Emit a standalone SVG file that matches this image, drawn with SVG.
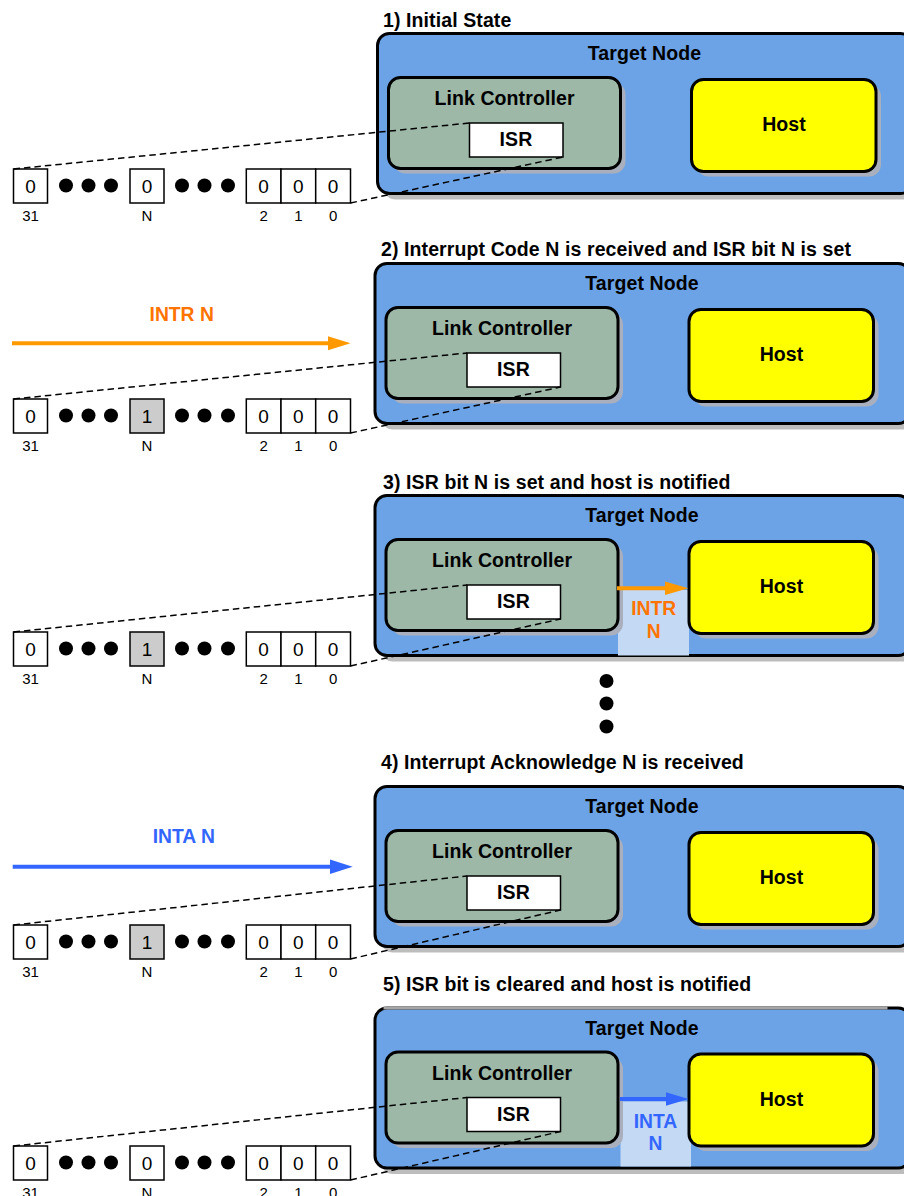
<svg xmlns="http://www.w3.org/2000/svg" width="904" height="1196" viewBox="0 0 904 1196">
<defs>
<style>
.tn{fill:#6CA3E6;stroke:#000;stroke-width:3}
.tnsh{fill:#BDBDBD}
.lc{fill:#9DB8A7;stroke:#000;stroke-width:3}
.host{fill:#FFFF00;stroke:#000;stroke-width:3}
.insh{fill:#A9AFBD}
.isr{fill:#fff;stroke:#000;stroke-width:1.5}
.reg{fill:#fff;stroke:#000;stroke-width:1.5}
.regset{fill:#CCCCCC;stroke:#000;stroke-width:1.5}
.lite{fill:#C4D9F4}
.title{font-family:"Liberation Sans",Arial,sans-serif;font-weight:bold;font-size:19.5px;letter-spacing:0.1px;fill:#000}
.lbl{font-family:"Liberation Sans",Arial,sans-serif;font-weight:bold;font-size:19.5px;letter-spacing:0.1px;fill:#000;text-anchor:middle}
.bit{font-family:"Liberation Sans",Arial,sans-serif;font-size:19px;fill:#000;text-anchor:middle}
.idx{font-family:"Liberation Sans",Arial,sans-serif;font-size:15px;fill:#000;text-anchor:middle}
.or{font-family:"Liberation Sans",Arial,sans-serif;font-weight:bold;font-size:19.3px;fill:#FF7300;text-anchor:middle}
.bl{font-family:"Liberation Sans",Arial,sans-serif;font-weight:bold;font-size:19.3px;fill:#3366FF;text-anchor:middle}
.dash{fill:none;stroke:#000;stroke-width:1.5;stroke-dasharray:6.5 4}
.aor{stroke:#FF9900;stroke-width:4;fill:none}
.abl{stroke:#3366FF;stroke-width:4;fill:none}
.hor{fill:#FF9900}
.hbl{fill:#3366FF}
.dot{fill:#000}
</style>
</defs>

<!-- Titles -->
<g id="titles">
<text class="title" x="383" y="26.5">1) Initial State</text>
<text class="title" x="381" y="255.5">2) Interrupt Code N is received and ISR bit N is set</text>
<text class="title" x="383" y="488.5">3) ISR bit N is set and host is notified</text>
<text class="title" x="381" y="768.5">4) Interrupt Acknowledge N is received</text>
<text class="title" x="383" y="991">5) ISR bit is cleared and host is notified</text>
</g>

<!-- ===== Section 1 ===== -->
<g id="s1-target">
<rect class="tnsh" x="383.5" y="39.5" width="535" height="160" rx="12"/>
<rect class="tn" x="377.5" y="33.5" width="535" height="160" rx="12"/>
<text class="lbl" x="644.5" y="60">Target Node</text>
</g>
<g id="s1-lc">
<rect class="insh" x="393.5" y="82.5" width="232" height="91" rx="12"/>
<rect class="lc" x="388.5" y="77.5" width="232" height="91" rx="12"/>
<text class="lbl" x="504.5" y="105">Link Controller</text>
</g>
<g id="s1-host">
<rect class="insh" x="696.5" y="84.5" width="184.5" height="92" rx="12"/>
<rect class="host" x="691.5" y="79.5" width="184.5" height="92" rx="12"/>
<text class="lbl" x="784" y="131">Host</text>
</g>
<g id="s1-isr">
<rect class="isr" x="469.5" y="123" width="93.5" height="34"/>
<text class="lbl" x="516" y="146">ISR</text>
</g>
<g id="s1-register">
<rect class="reg" x="13.5" y="169" width="34" height="34"/>
<text class="bit" x="30.5" y="192.5">0</text>
<circle class="dot" cx="66" cy="185.5" r="7"/><circle class="dot" cx="88.5" cy="185.5" r="7"/><circle class="dot" cx="111" cy="185.5" r="7"/>
<rect class="reg" x="130" y="169" width="34" height="34"/>
<text class="bit" x="147" y="192.5">0</text>
<circle class="dot" cx="182" cy="185.5" r="7"/><circle class="dot" cx="204.5" cy="185.5" r="7"/><circle class="dot" cx="228" cy="185.5" r="7"/>
<rect class="reg" x="246.3" y="169" width="34.7" height="34"/>
<rect class="reg" x="281" y="169" width="34.7" height="34"/>
<rect class="reg" x="315.7" y="169" width="34.8" height="34"/>
<text class="bit" x="263.6" y="192.5">0</text><text class="bit" x="298.4" y="192.5">0</text><text class="bit" x="333.1" y="192.5">0</text>
<text class="idx" x="30.5" y="220.5">31</text><text class="idx" x="147" y="220.5">N</text>
<text class="idx" x="263.6" y="220.5">2</text><text class="idx" x="298.4" y="220.5">1</text><text class="idx" x="333.1" y="220.5">0</text>
</g>

<!-- ===== Section 2 ===== -->
<g id="s2-target" transform="translate(-2.5,230)">
<rect class="tnsh" x="383.5" y="39.5" width="535" height="160" rx="12"/>
<rect class="tn" x="377.5" y="33.5" width="535" height="160" rx="12"/>
<text class="lbl" x="644.5" y="60">Target Node</text>
</g>
<g id="s2-lc" transform="translate(-2.5,230)">
<rect class="insh" x="393.5" y="82.5" width="232" height="91" rx="12"/>
<rect class="lc" x="388.5" y="77.5" width="232" height="91" rx="12"/>
<text class="lbl" x="504.5" y="105">Link Controller</text>
</g>
<g id="s2-host" transform="translate(-2.5,230)">
<rect class="insh" x="696.5" y="84.5" width="184.5" height="92" rx="12"/>
<rect class="host" x="691.5" y="79.5" width="184.5" height="92" rx="12"/>
<text class="lbl" x="784" y="131">Host</text>
</g>
<g id="s2-isr" transform="translate(-2.5,230)">
<rect class="isr" x="469.5" y="123" width="93.5" height="34"/>
<text class="lbl" x="516" y="146">ISR</text>
</g>
<g id="s2-register" transform="translate(0,230)">
<rect class="reg" x="13.5" y="169" width="34" height="34"/>
<text class="bit" x="30.5" y="192.5">0</text>
<circle class="dot" cx="66" cy="185.5" r="7"/><circle class="dot" cx="88.5" cy="185.5" r="7"/><circle class="dot" cx="111" cy="185.5" r="7"/>
<rect class="regset" x="130" y="169" width="34" height="34"/>
<text class="bit" x="147" y="192.5">1</text>
<circle class="dot" cx="182" cy="185.5" r="7"/><circle class="dot" cx="204.5" cy="185.5" r="7"/><circle class="dot" cx="228" cy="185.5" r="7"/>
<rect class="reg" x="246.3" y="169" width="34.7" height="34"/>
<rect class="reg" x="281" y="169" width="34.7" height="34"/>
<rect class="reg" x="315.7" y="169" width="34.8" height="34"/>
<text class="bit" x="263.6" y="192.5">0</text><text class="bit" x="298.4" y="192.5">0</text><text class="bit" x="333.1" y="192.5">0</text>
<text class="idx" x="30.5" y="220.5">31</text><text class="idx" x="147" y="220.5">N</text>
<text class="idx" x="263.6" y="220.5">2</text><text class="idx" x="298.4" y="220.5">1</text><text class="idx" x="333.1" y="220.5">0</text>
</g>
<g id="s2-intr-label">
<text class="or" x="181.7" y="320.7">INTR N</text>
</g>

<!-- ===== Section 3 ===== -->
<g id="s3-target" transform="translate(-2.5,462)">
<rect class="tnsh" x="383.5" y="39.5" width="535" height="160" rx="12"/>
<rect class="tn" x="377.5" y="33.5" width="535" height="160" rx="12"/>
<text class="lbl" x="644.5" y="60">Target Node</text>
</g>
<g id="s3-intr-box">
<rect class="lite" x="618" y="590" width="71" height="65.5"/>
<text class="or" x="653.7" y="615">INTR</text>
<text class="or" x="653.7" y="638.3">N</text>
</g>
<g id="s3-lc" transform="translate(-2.5,462)">
<rect class="insh" x="393.5" y="82.5" width="232" height="91" rx="12"/>
<rect class="lc" x="388.5" y="77.5" width="232" height="91" rx="12"/>
<text class="lbl" x="504.5" y="105">Link Controller</text>
</g>
<g id="s3-host" transform="translate(-2.5,462)">
<rect class="insh" x="696.5" y="84.5" width="184.5" height="92" rx="12"/>
<rect class="host" x="691.5" y="79.5" width="184.5" height="92" rx="12"/>
<text class="lbl" x="784" y="131">Host</text>
</g>
<g id="s3-isr" transform="translate(-2.5,462)">
<rect class="isr" x="469.5" y="123" width="93.5" height="34"/>
<text class="lbl" x="516" y="146">ISR</text>
</g>
<g id="s3-register" transform="translate(0,463)">
<rect class="reg" x="13.5" y="169" width="34" height="34"/>
<text class="bit" x="30.5" y="192.5">0</text>
<circle class="dot" cx="66" cy="185.5" r="7"/><circle class="dot" cx="88.5" cy="185.5" r="7"/><circle class="dot" cx="111" cy="185.5" r="7"/>
<rect class="regset" x="130" y="169" width="34" height="34"/>
<text class="bit" x="147" y="192.5">1</text>
<circle class="dot" cx="182" cy="185.5" r="7"/><circle class="dot" cx="204.5" cy="185.5" r="7"/><circle class="dot" cx="228" cy="185.5" r="7"/>
<rect class="reg" x="246.3" y="169" width="34.7" height="34"/>
<rect class="reg" x="281" y="169" width="34.7" height="34"/>
<rect class="reg" x="315.7" y="169" width="34.8" height="34"/>
<text class="bit" x="263.6" y="192.5">0</text><text class="bit" x="298.4" y="192.5">0</text><text class="bit" x="333.1" y="192.5">0</text>
<text class="idx" x="30.5" y="220.5">31</text><text class="idx" x="147" y="220.5">N</text>
<text class="idx" x="263.6" y="220.5">2</text><text class="idx" x="298.4" y="220.5">1</text><text class="idx" x="333.1" y="220.5">0</text>
</g>

<g id="ellipsis">
<circle class="dot" cx="606.5" cy="681" r="7"/>
<circle class="dot" cx="606.5" cy="703.5" r="7"/>
<circle class="dot" cx="606.5" cy="726.5" r="7"/>
</g>

<!-- ===== Section 4 ===== -->
<g id="s4-target" transform="translate(-2.5,753)">
<rect class="tnsh" x="383.5" y="39.5" width="535" height="160" rx="12"/>
<rect class="tn" x="377.5" y="33.5" width="535" height="160" rx="12"/>
<text class="lbl" x="644.5" y="60">Target Node</text>
</g>
<g id="s4-lc" transform="translate(-2.5,753)">
<rect class="insh" x="393.5" y="82.5" width="232" height="91" rx="12"/>
<rect class="lc" x="388.5" y="77.5" width="232" height="91" rx="12"/>
<text class="lbl" x="504.5" y="105">Link Controller</text>
</g>
<g id="s4-host" transform="translate(-2.5,753)">
<rect class="insh" x="696.5" y="84.5" width="184.5" height="92" rx="12"/>
<rect class="host" x="691.5" y="79.5" width="184.5" height="92" rx="12"/>
<text class="lbl" x="784" y="131">Host</text>
</g>
<g id="s4-isr" transform="translate(-2.5,753)">
<rect class="isr" x="469.5" y="123" width="93.5" height="34"/>
<text class="lbl" x="516" y="146">ISR</text>
</g>
<g id="s4-register" transform="translate(0,756)">
<rect class="reg" x="13.5" y="169" width="34" height="34"/>
<text class="bit" x="30.5" y="192.5">0</text>
<circle class="dot" cx="66" cy="185.5" r="7"/><circle class="dot" cx="88.5" cy="185.5" r="7"/><circle class="dot" cx="111" cy="185.5" r="7"/>
<rect class="regset" x="130" y="169" width="34" height="34"/>
<text class="bit" x="147" y="192.5">1</text>
<circle class="dot" cx="182" cy="185.5" r="7"/><circle class="dot" cx="204.5" cy="185.5" r="7"/><circle class="dot" cx="228" cy="185.5" r="7"/>
<rect class="reg" x="246.3" y="169" width="34.7" height="34"/>
<rect class="reg" x="281" y="169" width="34.7" height="34"/>
<rect class="reg" x="315.7" y="169" width="34.8" height="34"/>
<text class="bit" x="263.6" y="192.5">0</text><text class="bit" x="298.4" y="192.5">0</text><text class="bit" x="333.1" y="192.5">0</text>
<text class="idx" x="30.5" y="220.5">31</text><text class="idx" x="147" y="220.5">N</text>
<text class="idx" x="263.6" y="220.5">2</text><text class="idx" x="298.4" y="220.5">1</text><text class="idx" x="333.1" y="220.5">0</text>
</g>
<g id="s4-inta-label">
<text class="bl" x="183.8" y="843.3">INTA N</text>
</g>

<!-- ===== Section 5 ===== -->
<g id="s5-target" transform="translate(-2.5,974.5)">
<rect class="tnsh" x="383.5" y="39.5" width="535" height="160" rx="12"/>
<rect class="tn" x="377.5" y="33.5" width="535" height="160" rx="12"/>
<line x1="386" y1="33.5" x2="890" y2="33.5" stroke="#A6A6A6" stroke-width="3"/>
<text class="lbl" x="644.5" y="60">Target Node</text>
</g>
<g id="s5-inta-box">
<rect class="lite" x="620.5" y="1101.5" width="70.5" height="65"/>
<text class="bl" x="655.5" y="1128">INTA</text>
<text class="bl" x="655.5" y="1150">N</text>
</g>
<g id="s5-lc" transform="translate(-2.5,974.5)">
<rect class="insh" x="393.5" y="82.5" width="232" height="91" rx="12"/>
<rect class="lc" x="388.5" y="77.5" width="232" height="91" rx="12"/>
<text class="lbl" x="504.5" y="105">Link Controller</text>
</g>
<g id="s5-host" transform="translate(-2.5,974.5)">
<rect class="insh" x="696.5" y="84.5" width="184.5" height="92" rx="12"/>
<rect class="host" x="691.5" y="79.5" width="184.5" height="92" rx="12"/>
<text class="lbl" x="784" y="131">Host</text>
</g>
<g id="s5-isr" transform="translate(-2.5,974.5)">
<rect class="isr" x="469.5" y="123" width="93.5" height="34"/>
<text class="lbl" x="516" y="146">ISR</text>
</g>
<g id="s5-register" transform="translate(0,977)">
<rect class="reg" x="13.5" y="169" width="34" height="34"/>
<text class="bit" x="30.5" y="192.5">0</text>
<circle class="dot" cx="66" cy="185.5" r="7"/><circle class="dot" cx="88.5" cy="185.5" r="7"/><circle class="dot" cx="111" cy="185.5" r="7"/>
<rect class="reg" x="130" y="169" width="34" height="34"/>
<text class="bit" x="147" y="192.5">0</text>
<circle class="dot" cx="182" cy="185.5" r="7"/><circle class="dot" cx="204.5" cy="185.5" r="7"/><circle class="dot" cx="228" cy="185.5" r="7"/>
<rect class="reg" x="246.3" y="169" width="34.7" height="34"/>
<rect class="reg" x="281" y="169" width="34.7" height="34"/>
<rect class="reg" x="315.7" y="169" width="34.8" height="34"/>
<text class="bit" x="263.6" y="192.5">0</text><text class="bit" x="298.4" y="192.5">0</text><text class="bit" x="333.1" y="192.5">0</text>
<text class="idx" x="30.5" y="220.5">31</text><text class="idx" x="147" y="220.5">N</text>
<text class="idx" x="263.6" y="220.5">2</text><text class="idx" x="298.4" y="220.5">1</text><text class="idx" x="333.1" y="220.5">0</text>
</g>

<!-- ===== Connectors ===== -->
<g id="connectors">
<line class="dash" x1="13.5" y1="169" x2="469.5" y2="123"/>
<line class="dash" x1="350.5" y1="203" x2="563" y2="157"/>
<line class="dash" x1="13.5" y1="399" x2="467" y2="353"/>
<line class="dash" x1="350.5" y1="433" x2="560.5" y2="387"/>
<line class="dash" x1="13.5" y1="632" x2="467" y2="585"/>
<line class="dash" x1="350.5" y1="666" x2="560.5" y2="619"/>
<line class="dash" x1="13.5" y1="925" x2="467" y2="876"/>
<line class="dash" x1="350.5" y1="959" x2="560.5" y2="910"/>
<line class="dash" x1="13.5" y1="1146" x2="467" y2="1097.5"/>
<line class="dash" x1="350.5" y1="1180" x2="560.5" y2="1131.5"/>
<line class="aor" x1="12" y1="343.3" x2="330" y2="343.3"/>
<polygon class="hor" points="350.5,343.3 328,336.3 328,350.3"/>
<line class="abl" x1="12.7" y1="866.7" x2="332" y2="866.7"/>
<polygon class="hbl" points="352.7,866.7 330,859.5 330,874"/>
<line class="aor" x1="617" y1="588.3" x2="667" y2="588.3"/>
<polygon class="hor" points="688.3,588.3 665,581.6 665,595"/>
<line class="abl" x1="620" y1="1099" x2="668" y2="1099"/>
<polygon class="hbl" points="688.5,1099 666,1092.3 666,1105.7"/>
</g>
</svg>
